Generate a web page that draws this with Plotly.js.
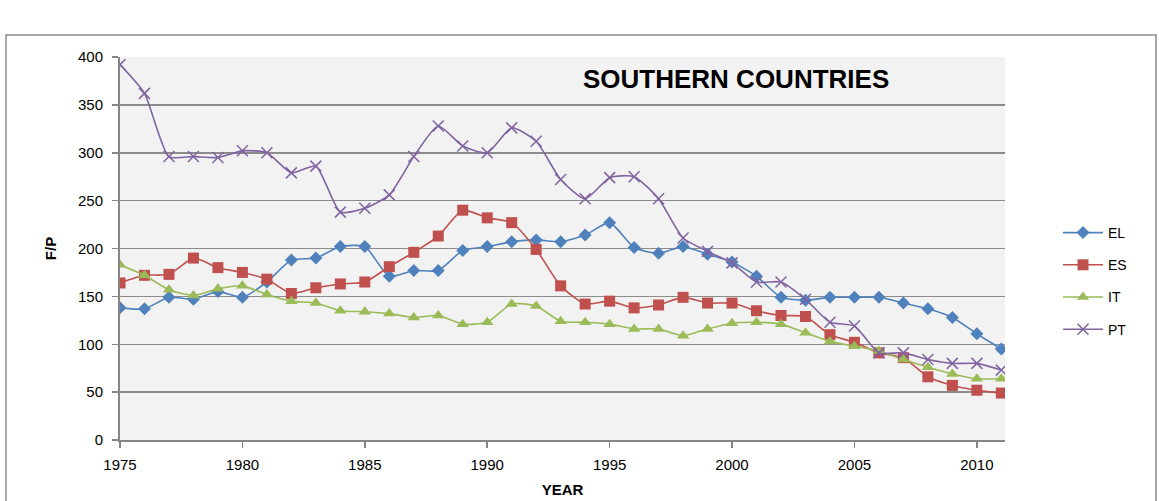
<!DOCTYPE html>
<html>
<head>
<meta charset="utf-8">
<script src="https://cdn.plot.ly/plotly-3.0.1.min.js"></script>
<style>
html,body{margin:0;padding:0;background:#fff;}
#chart{width:1159px;height:501px;}
</style>
</head>
<body>
<div id="chart"></div>
<script>
const years = [1975,1976,1977,1978,1979,1980,1981,1982,1983,1984,1985,1986,1987,1988,1989,1990,1991,1992,1993,1994,1995,1996,1997,1998,1999,2000,2001,2002,2003,2004,2005,2006,2007,2008,2009,2010,2011];
const EL = [138,137,149,147,155,149,165,188,190,202,202,171,177,177,198,202,207,209,207,214,227,201,195,202,194,186,171,149,146,149,149,149,143,137,128,111,95];
const ES = [164,172,173,190,180,175,168,153,159,163,165,181,196,213,240,232,227,199,161,142,145,138,141,149,143,143,135,130,129,110,102,91,86,66,57,52,49];
const IT = [183,172,157,151,158,161,152,145,143,135,134,132,128,130,121,123,142,140,124,123,121,116,116,109,116,122,123,121,112,103,98,93,84,76,69,64,64];
const PT = [392,362,296,296,295,302,300,279,286,238,242,256,296,328,307,300,326,312,272,252,274,275,252,211,197,185,165,165,147,123,119,91,91,84,80,80,73];
const seriesNames = ['EL','ES','IT','PT'];
const colors = ['#4F81BD','#C0504D','#9BBB59','#8064A2'];
const yTicks = [0,50,100,150,200,250,300,350,400];
const xTicks = [1975,1980,1985,1990,1995,2000,2005,2010];

const font = 'Liberation Sans, Arial, sans-serif';
const data = [EL, ES, IT, PT];
const symbols = ['diamond','square','triangle-up','x-thin'];
const sizes = [10,11,11,11];
const traces = data.map((vals,i)=>({
  x: years, y: vals, name: seriesNames[i], legendgroup: seriesNames[i], type:'scatter', mode:'lines+markers',
  line:{color:colors[i], width:1.6, shape:'spline', smoothing:0.6},
  marker:{symbol:symbols[i], size:sizes[i], color:colors[i], line:{color:colors[i], width: i===3?1.5:0}}
}));

const L=120, R=1005, T=57, B=440, W=1159, H=501;
const pw = R-L, ph = B-T;
const px = v => (v-L)/pw, py = v => (B-v)/ph;

const layout = {
  width:W, height:H,
  margin:{l:L, r:W-R, t:T, b:H-B, pad:0},
  paper_bgcolor:'#ffffff', plot_bgcolor:'#F2F2F2',
  showlegend:true,
  legend:{x:px(1058), y:py(217), xanchor:'left', yanchor:'top', font:{family:font, size:14, color:'#000'}, traceorder:'grouped', tracegroupgap:11, itemwidth:40, bgcolor:'rgba(0,0,0,0)'},
  xaxis:{range:[1975,2011.15], tickvals:xTicks, ticktext:xTicks.map(String), showgrid:false, zeroline:false,
    showline:true, linecolor:'#868686', linewidth:2, ticks:'outside', ticklen:6, tickcolor:'#868686', tickwidth:1.5,
    ticklabelstandoff:4,
    tickfont:{family:font, size:15, color:'#000'},
    title:{text:'<b>YEAR</b>', font:{family:font, size:15, color:'#000'}, standoff:12}},
  yaxis:{range:[0,400], tickvals:yTicks, ticktext:yTicks.map(String), showgrid:true, gridcolor:'#8C8C8C', gridwidth:1.5, zeroline:false,
    showline:true, linecolor:'#868686', linewidth:2, ticks:'outside', ticklen:6, tickcolor:'#868686', tickwidth:1.5,
    ticklabelstandoff:6,
    tickfont:{family:font, size:15, color:'#000'},
    title:{text:'<b>F/P</b>', font:{family:font, size:15, color:'#000'}, standoff:18}},
  annotations:[{text:'<b>SOUTHERN COUNTRIES</b>', xref:'paper', yref:'paper', x:px(736), y:py(79), xanchor:'center', yanchor:'middle', showarrow:false,
    font:{family:font, size:26, color:'#000'}}],
  shapes:[{type:'rect', xref:'paper', yref:'paper', x0:px(6), x1:px(1156), y0:py(510), y1:py(35), line:{color:'#8A8A8A', width:1.5}, fillcolor:'rgba(0,0,0,0)', layer:'below'}]
};
Plotly.newPlot('chart', traces, layout, {displayModeBar:false, staticPlot:true});
</script>
</body>
</html>
